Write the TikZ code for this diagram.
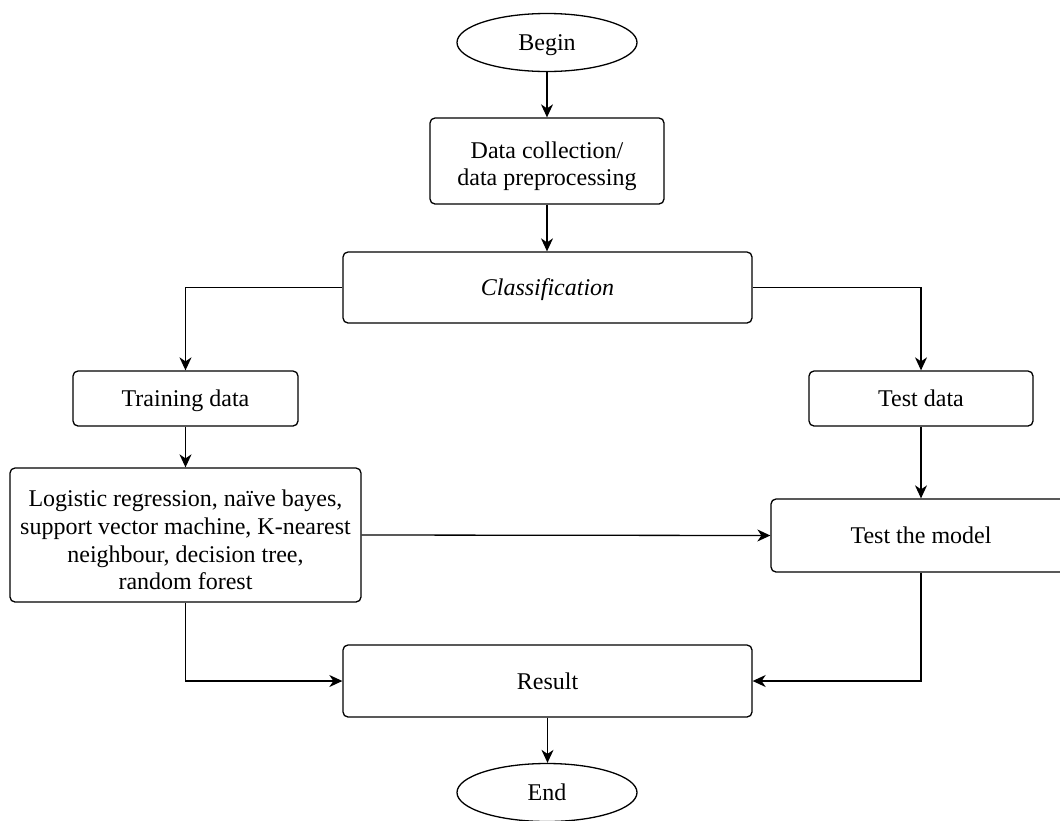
\documentclass[tikz,border=0pt]{standalone}
\usepackage{fontspec}
\setmainfont{Liberation Serif}
\usetikzlibrary{arrows.meta,shapes.geometric}
\newcommand{\firststrut}{\rule{0pt}{27pt}}
\begin{document}
\begin{tikzpicture}[x=1pt,y=-1pt,
  every node/.style={font=\fontsize{24}{27.6}\selectfont, align=center, inner sep=0pt},
  oneline/.style={text height=20pt, text depth=4pt},
  box/.style={draw, line width=1.3pt, rounded corners=5pt, rectangle},
  oval/.style={draw, line width=1.3pt, ellipse},
  conn/.style={line width=1.3pt, -{Stealth[length=13pt,width=12pt,inset=4pt]}}
]
\clip (0,0) rectangle (1060,820);
\node[oval, oneline, minimum width=180, minimum height=58] (begin) at (547,42.5) {Begin};
\node[box, minimum width=234, minimum height=86] (data) at (547,161) {\firststrut Data collection/\\data preprocessing};
\node[box, oneline, minimum width=409, minimum height=71] (class) at (547.5,287.5) {\itshape Classification};
\node[box, oneline, minimum width=225, minimum height=55] (train) at (185.5,398.5) {Training data};
\node[box, oneline, minimum width=224, minimum height=55] (test) at (921,398.5) {Test data};
\node[box, minimum width=351, minimum height=134] (algo) at (185.5,535) {\firststrut Logistic regression, na\"ive bayes,\\support vector machine, K-nearest\\neighbour, decision tree,\\random forest};
\node[box, oneline, minimum width=300, minimum height=73] (model) at (921,535.5) {Test the model};
\node[box, oneline, minimum width=409, minimum height=72] (result) at (547.5,681) {Result};
\node[oval, oneline, minimum width=180, minimum height=58] (end) at (547,792.5) {End};

\draw[conn] (begin.south) -- (data.north);
\draw[conn] (data.south) -- (data.south |- class.north);
\draw[conn] (class.west) -| (train.north);
\draw[conn] (class.east) -| (test.north);
\draw[conn] (train.south) -- (algo.north);
\draw[conn] (test.south) -- (model.north);
\draw[conn] (algo.east) -- (model.west);
\draw[conn] (algo.south) |- (result.west);
\draw[conn] (model.south) |- (result.east);
\draw[conn] (result.south) -- (result.south |- end.north);
\end{tikzpicture}
\end{document}
